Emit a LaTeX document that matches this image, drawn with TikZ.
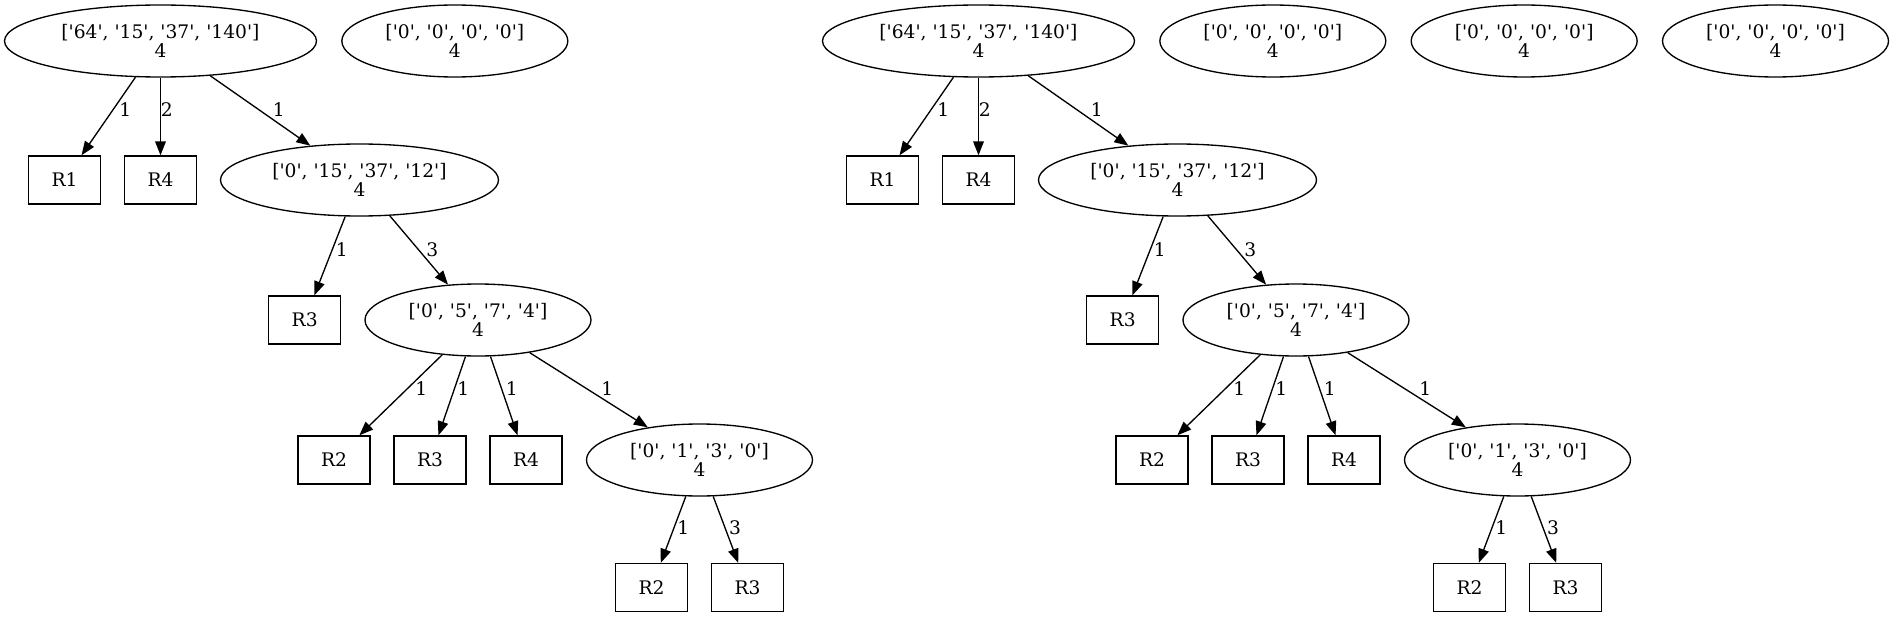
\documentclass[tikz,border=0pt]{standalone}
\usepackage{fontspec}
\setmainfont{DejaVu Serif}
\usetikzlibrary{arrows.meta,shapes.geometric,positioning}
\tikzstyle{post}=[->,>={Triangle[length=10.5pt,width=8pt]}]
\tikzstyle{tree}=[draw,ellipse,align=center,minimum height=54pt,inner sep=0pt]
\tikzstyle{leaf}=[draw,rectangle,minimum width=54pt,minimum height=36pt,inner sep=0pt]
\tikzstyle{weight}=[inner sep=0pt]
\newcommand{\sq}{\textquotesingle}
\newcommand{\qlist}[4]{[\sq#1\sq, \sq#2\sq, \sq#3\sq, \sq#4\sq]\\4}

\begin{document}
\begin{tikzpicture}[x=0.75pt,y=-0.75pt,line width=1pt,node distance=72pt,font=\fontsize{14}{14.5}\selectfont]
\useasboundingbox (0,0) rectangle (1892,617);
            % left tree
            \node (A1) [tree, minimum width=234pt] at (160.5,41) {\qlist{64}{15}{37}{140}};
            \node (Z1) [tree, minimum width=169.5pt] [right=18pt of A1] {\qlist{0}{0}{0}{0}};
            \node (R1a) [leaf] at (64.5,180) {R1};
            \node (R4a) [leaf] [right of=R1a] {R4};
            \node (B1) [tree, minimum width=208.5pt] at (359.5,180) {\qlist{0}{15}{37}{12}};
            \node (R3a) [leaf] at (304.7,320) {R3};
            \node (C1) [tree, minimum width=169.5pt] at (478,320) {\qlist{0}{5}{7}{4}};
            \node (R2b) [leaf] at (334,460) {R2};
            \node (R3b) [leaf] [right of=R2b] {R3};
            \node (R4b) [leaf] [right of=R3b] {R4};
            \node (D1) [tree, minimum width=169.5pt] at (699.5,460) {\qlist{0}{1}{3}{0}};
            \node (R2c) [leaf] at (651.5,587.5) {R2};
            \node (R3c) [leaf] [right of=R2c] {R3};

            \path[post] (A1) edge (R1a) edge (R4a) edge (B1);
            \path[post] (B1) edge (R3a) edge (C1);
            \path[post] (C1) edge (R2b) edge (R3b) edge (R4b) edge (D1);
            \path[post] (D1) edge (R2c) edge (R3c);

            \node (wA1R1) [weight] at (125.3,110) {1};
            \node (wA1R4) [weight] at (166.7,110) {2};
            \node (wA1B1) [weight] at (278.7,110) {1};
            \node (wB1R3) [weight] at (341.7,250) {1};
            \node (wB1C1) [weight] at (432.3,250) {3};
            \node (wC1R2) [weight] at (421.3,389) {1};
            \node (wC1R3) [weight] at (463.3,389) {1};
            \node (wC1R4) [weight] at (511.7,389) {1};
            \node (wC1D1) [weight] at (607.3,389) {1};
            \node (wD1R2) [weight] at (683.3,528) {1};
            \node (wD1R3) [weight] at (735,528) {3};

            % right tree
            \node (A2) [tree, minimum width=234pt] at (978.5,41) {\qlist{64}{15}{37}{140}};
            \node (Z2) [tree, minimum width=169.5pt] [right=18pt of A2] {\qlist{0}{0}{0}{0}};
            \node (Z3) [tree, minimum width=169.5pt] [right=18pt of Z2] {\qlist{0}{0}{0}{0}};
            \node (Z4) [tree, minimum width=169.5pt] [right=18pt of Z3] {\qlist{0}{0}{0}{0}};
            \node (R1d) [leaf] at (882.5,180) {R1};
            \node (R4d) [leaf] [right of=R1d] {R4};
            \node (B2) [tree, minimum width=208.5pt] at (1177.5,180) {\qlist{0}{15}{37}{12}};
            \node (R3d) [leaf] at (1122.7,320) {R3};
            \node (C2) [tree, minimum width=169.5pt] at (1296,320) {\qlist{0}{5}{7}{4}};
            \node (R2e) [leaf] at (1152,460) {R2};
            \node (R3e) [leaf] [right of=R2e] {R3};
            \node (R4e) [leaf] [right of=R3e] {R4};
            \node (D2) [tree, minimum width=169.5pt] at (1517.5,460) {\qlist{0}{1}{3}{0}};
            \node (R2f) [leaf] at (1469.5,587.5) {R2};
            \node (R3f) [leaf] [right of=R2f] {R3};

            \path[post] (A2) edge (R1d) edge (R4d) edge (B2);
            \path[post] (B2) edge (R3d) edge (C2);
            \path[post] (C2) edge (R2e) edge (R3e) edge (R4e) edge (D2);
            \path[post] (D2) edge (R2f) edge (R3f);

            \node (wA2R1) [weight] at (943.3,110) {1};
            \node (wA2R4) [weight] at (984.7,110) {2};
            \node (wA2B2) [weight] at (1096.7,110) {1};
            \node (wB2R3) [weight] at (1159.7,250) {1};
            \node (wB2C2) [weight] at (1250.3,250) {3};
            \node (wC2R2) [weight] at (1239.3,389) {1};
            \node (wC2R3) [weight] at (1281.3,389) {1};
            \node (wC2R4) [weight] at (1329.7,389) {1};
            \node (wC2D2) [weight] at (1425.3,389) {1};
            \node (wD2R2) [weight] at (1501.3,528) {1};
            \node (wD2R3) [weight] at (1553,528) {3};
\end{tikzpicture}
\end{document}
